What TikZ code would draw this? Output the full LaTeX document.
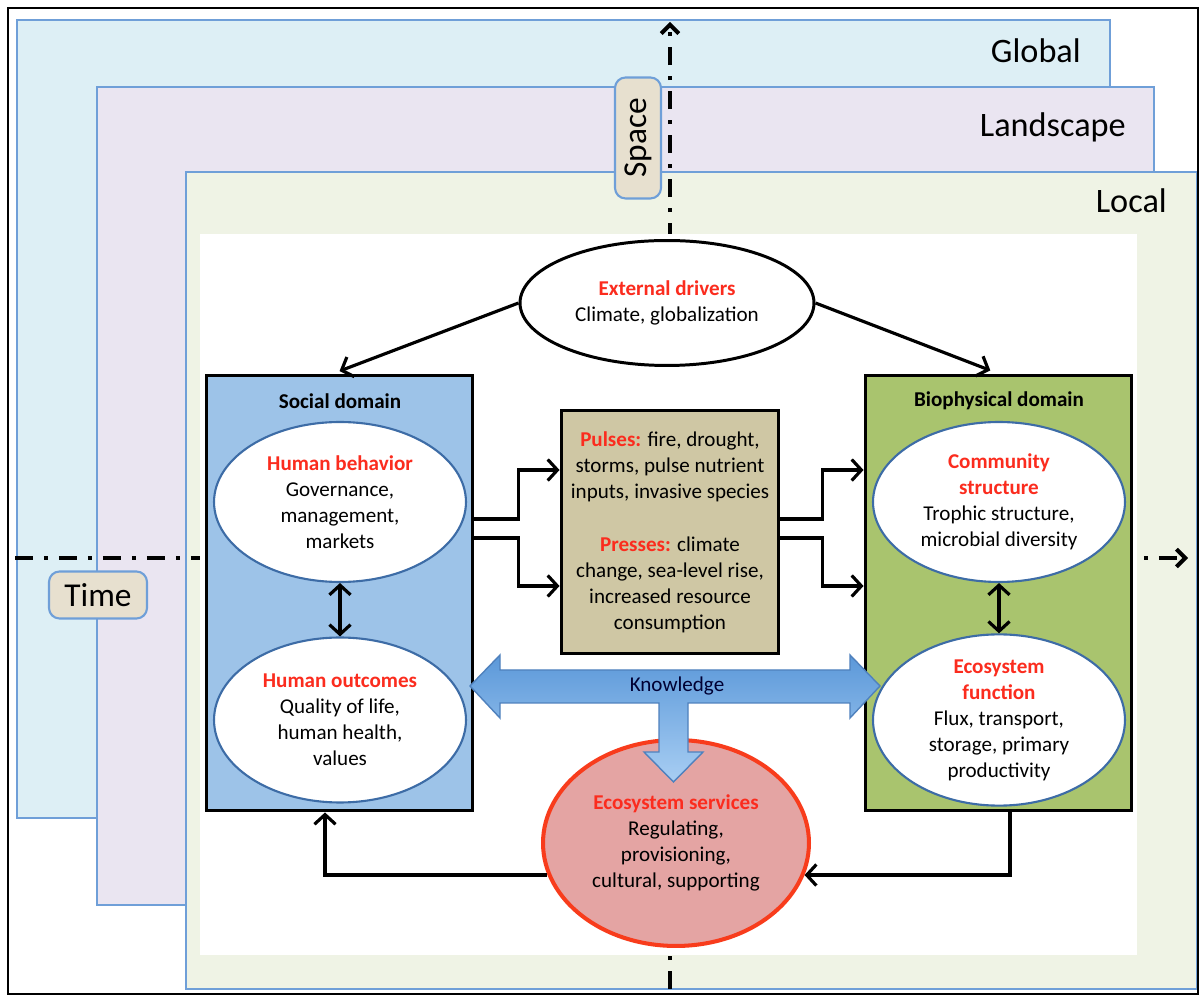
\documentclass[tikz,border=0pt]{standalone}
\usepackage{fontspec}
\setmainfont{Carlito}
\usetikzlibrary{shapes.geometric,arrows.meta}

\definecolor{globalfill}{HTML}{DDEFF5}
\definecolor{landfill}{HTML}{EAE5F1}
\definecolor{localfill}{HTML}{EFF3E5}
\definecolor{panelline}{HTML}{6F9FD8}
\definecolor{socialfill}{HTML}{9DC3E8}
\definecolor{biofill}{HTML}{A9C46E}
\definecolor{pulsefill}{HTML}{CFC7A4}
\definecolor{servfill}{HTML}{E4A4A3}
\definecolor{servline}{HTML}{F83C1C}
\definecolor{tagfill}{HTML}{E7E0CF}
\definecolor{ovalline}{HTML}{3D6CA6}
\definecolor{hdred}{HTML}{FB2C1E}
\definecolor{knowtop}{HTML}{5B98D9}
\definecolor{knowbot}{HTML}{A8CEF3}
\definecolor{knowline}{HTML}{4F81BD}

\def\pxu{0.02cm}
\newcommand{\hd}[1]{\textcolor{hdred}{\bfseries #1}}

\begin{document}
\begin{tikzpicture}[x=\pxu,y=-\pxu,>={Straight Barb[length=5.5pt,width=12pt]},
  font=\fontsize{12}{14.8}\selectfont]
				\tikzstyle{panel}=[draw=panelline,line width=1.2pt]
				\tikzstyle{axis}=[line width=2.3pt,dash pattern=on 0.36cm off 0.22cm on 0.08cm off 0.22cm,
				  -{Straight Barb[length=5pt,width=10pt]}]
				\tikzstyle{tag}=[draw=panelline,line width=1.2pt,fill=tagfill,rounded corners=6pt,
				  font=\fontsize{19}{22}\selectfont,inner sep=0pt]
				\tikzstyle{scale label}=[anchor=base east,font=\fontsize{19.5}{22}\selectfont]
				\tikzstyle{domainbox}=[draw=black,line width=1.7pt,minimum width=5.34cm,minimum height=8.72cm,inner sep=0pt]
				\tikzstyle{oval}=[ellipse,draw=ovalline,line width=1.2pt,fill=white,minimum width=5.04cm,
				  inner sep=0pt,align=center]
				\tikzstyle{link}=[->,line width=1.8pt]

			    \useasboundingbox (0,0) rectangle (1201,999);
			    \fill[white] (0,0) rectangle (1201,999);

			    % Scale panels
			    \draw[panel,fill=globalfill] (17,20) rectangle (1110,818);
			    \draw[panel,fill=landfill] (97,87) rectangle (1154,905);
			    \draw[panel,fill=localfill] (186,172) rectangle (1197,989);
			    \node[scale label] (global) at (1087,63) {Global};
			    \node[scale label] (landscape) at (1132,137) {Landscape};
			    \node[scale label] (local) at (1173,213) {Local};

			    % Time and space axes
			    \coordinate (t0) at (15,558);
			    \coordinate (t1) at (1188,558);
			    \coordinate (s0) at (670,989);
			    \coordinate (s1) at (670,22);
			    \draw[axis] (t0) -- (t1);
			    \draw[axis] (s0) -- (s1);
			    \node[tag,minimum width=1.96cm,minimum height=0.94cm] (time) at (98,595) {Time};
			    \node[tag,rotate=90,minimum width=2.42cm,minimum height=0.92cm] (space) at (638,138) {Space};

			    % Inner sheet
			    \fill[white] (200,234) rectangle (1137,955);

			    % External drivers
			    \node[ellipse,draw,line width=1.7pt,fill=white,minimum width=5.88cm,minimum height=2.5cm,
			      align=center] (ext) at (667,303) {\hd{External drivers}\\Climate, globalization};

			    % Social domain
			    \node[domainbox,fill=socialfill] (social) at (339.5,593) {};
			    \node (socialtitle) at (340,401) {\bfseries Social domain};
			    \node[oval,minimum height=3.2cm] (behavior) at (340,502)
			      {\hd{Human behavior}\\Governance,\\management,\\markets};
			    \node[oval,minimum height=3.3cm] (outcomes) at (340,720)
			      {\hd{Human outcomes}\\Quality of life,\\human health,\\values};

			    % Biophysical domain
			    \node[domainbox,fill=biofill] (bio) at (998.5,593) {};
			    \node (biotitle) at (999,401) {\bfseries Biophysical domain};
			    \node[oval,minimum height=3.2cm] (community) at (999,502)
			      {\hd{Community}\\\hd{structure}\\Trophic structure,\\microbial diversity};
			    \node[oval,minimum height=3.3cm] (function) at (999,720)
			      {\hd{Ecosystem}\\\hd{function}\\Flux, transport,\\storage, primary\\productivity};

			    % Pulses and presses
			    \node[draw,line width=1.7pt,fill=pulsefill,minimum width=4.36cm,minimum height=4.88cm,
			      align=center] (pulses) at (670,532)
			      {\hd{Pulses:} fire, drought,\\storms, pulse nutrient\\inputs, invasive species\\[15.5pt]
			       \hd{Presses:} climate\\change, sea-level rise,\\increased resource\\consumption};

			    % Ecosystem services
			    \node[ellipse,draw=servline,line width=2.3pt,fill=servfill,minimum width=5.32cm,
			      minimum height=4.12cm,align=center] (services) at (676,843)
			      {\hd{Ecosystem services}\\Regulating,\\provisioning,\\cultural, supporting};

			    % Knowledge arrow
			    \shade[top color=knowtop,bottom color=knowbot,draw=knowline,line width=0.8pt]
			      (470,686) -- (500,655) -- (500,670) -- (850,670) -- (850,655) -- (880,686)
			      -- (850,718) -- (850,703) -- (688,703) -- (688,752) -- (703,752) -- (673.5,782)
			      -- (644,752) -- (659,752) -- (659,703) -- (500,703) -- (500,718) -- cycle;
			    \node[text=black!80!blue] (knowledge) at (677,686) {Knowledge};

			    % Connect drivers with both domains
			    \draw[link,shorten >=4pt] (ext.west) -- ([xshift=-0.13cm]social.north);
			    \draw[link,shorten >=5pt] (ext.east) -- (bio.north);

			    % Pulses and presses between the domains
			    \draw[link] ([yshift=1.48cm]social.east) -- ++(0.88cm,0) |- ([yshift=1.24cm]pulses.west);
			    \draw[link] ([yshift=1.1cm]social.east) -- ++(0.88cm,0) |- ([yshift=-1.08cm]pulses.west);
			    \draw[link] ([yshift=0.26cm]pulses.east) -- ++(0.84cm,0) |- ([yshift=2.46cm]bio.west);
			    \draw[link] ([yshift=-0.12cm]pulses.east) -- ++(0.84cm,0) |- ([yshift=0.14cm]bio.west);

			    % Links inside the domains
			    \draw[link,<->] (behavior.south) -- (outcomes.north);
			    \draw[link,<->] (community.south) -- (function.north);

			    % Feedback through ecosystem services
			    \draw[link] (services.194) -| ([xshift=-0.29cm]social.south);
			    \draw[link] ([xshift=0.23cm]bio.south) |- (services.346);

			    % Frame
			    \draw[line width=1.5pt] (8,8) rectangle (1198,994);

\end{tikzpicture}
\end{document}
